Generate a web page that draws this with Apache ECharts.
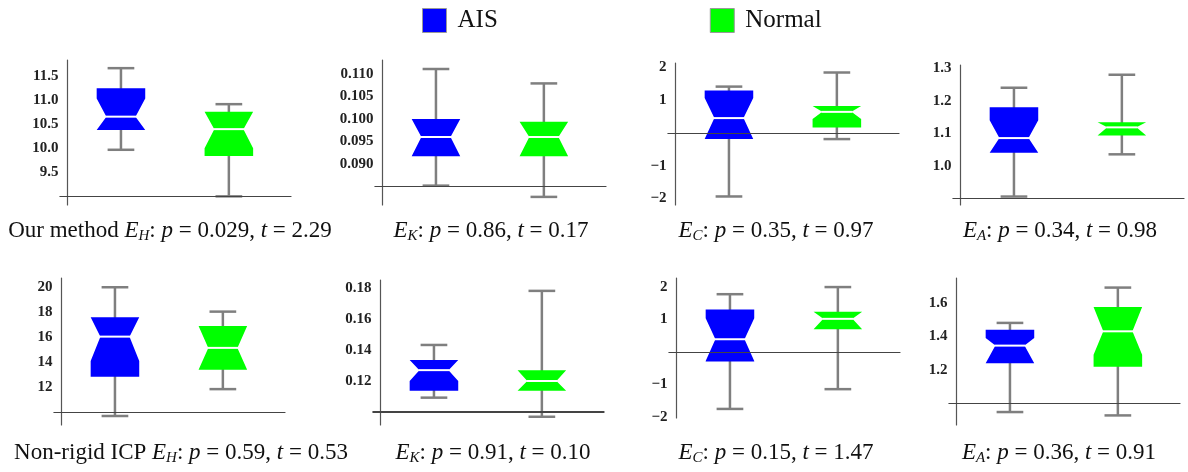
<!DOCTYPE html>
<html>
<head>
<meta charset="utf-8">
<script src="https://cdn.jsdelivr.net/npm/echarts@6/dist/echarts.min.js"></script>
<style>
  html, body { margin: 0; padding: 0; background: #fff; }
  #chart { width: 1188px; height: 472px; }
</style>
</head>
<body>
<div id="chart"></div>
<script>
// box stats: [lower whisker, Q1, notch low, median, notch high, Q3, upper whisker]
const oursEH_AIS = [9.97, 10.38, 10.38, 10.66, 11.04, 11.25, 11.67];
const oursEH_Normal = [9.0, 9.84, 10.0, 10.40, 10.76, 10.76, 10.92];
const oursEK_AIS = [0.0852, 0.0917, 0.0917, 0.0960, 0.1000, 0.1000, 0.1111];
const oursEK_Normal = [0.0827, 0.0917, 0.0917, 0.0960, 0.0994, 0.0994, 0.1079];
const oursEC_AIS = [-1.94, -0.19, -0.19, 0.45, 1.06, 1.29, 1.41];
const oursEC_Normal = [-0.19, 0.16, 0.42, 0.64, 0.82, 0.82, 1.84];
const oursEA_AIS = [0.905, 1.04, 1.04, 1.085, 1.14, 1.18, 1.24];
const oursEA_Normal = [1.035, 1.093, 1.093, 1.118, 1.134, 1.134, 1.28];

const icpEH_AIS = [9.7, 12.85, 14.1, 16.05, 17.6, 17.6, 20.0];
const icpEH_Normal = [11.85, 13.4, 13.4, 15.15, 16.9, 16.9, 18.05];
const icpEK_AIS = [0.1093, 0.1138, 0.120, 0.127, 0.1335, 0.1335, 0.1432];
const icpEK_Normal = [0.097, 0.1138, 0.1138, 0.120, 0.127, 0.127, 0.178];
const icpEC_AIS = [-1.76, -0.30, -0.28, 0.39, 1.04, 1.31, 1.78];
const icpEC_Normal = [-1.15, 0.70, 0.70, 1.02, 1.24, 1.24, 2.0];
const icpEA_AIS = [0.95, 1.24, 1.24, 1.345, 1.39, 1.44, 1.48];
const icpEA_Normal = [0.93, 1.22, 1.29, 1.43, 1.575, 1.575, 1.69];

const groups = ['AIS', 'Normal'];
const groupPos = [0.5, 1.5];

// y axis ranges, axis crossing value and tick labels per panel
const yMin = [8.82, 0.0809, -2.2, 0.879, 8.98, 0.0917, -2.04, 0.873];
const yMax = [11.84, 0.1131, 2.13, 1.31, 20.74, 0.185, 2.28, 1.747];
const axisCross = [9.0, 0.085, 0, 0.9, 10, 0.10, 0, 1.0];
const tickLabels = [
  ['9.5', '10.0', '10.5', '11.0', '11.5'],
  ['0.090', '0.095', '0.100', '0.105', '0.110'],
  ['\u22122', '\u22121', '1', '2'],
  ['1.0', '1.1', '1.2', '1.3'],
  ['12', '14', '16', '18', '20'],
  ['0.12', '0.14', '0.16', '0.18'],
  ['\u22122', '\u22121', '1', '2'],
  ['1.2', '1.4', '1.6'],
];

// captions
const captionPrefix = ['Our method ', '', '', '', 'Non-rigid ICP ', '', '', ''];
const errorSub = ['H', 'K', 'C', 'A', 'H', 'K', 'C', 'A'];
const pValues = ['0.029', '0.86', '0.35', '0.34', '0.59', '0.91', '0.15', '0.36'];
const tValues = ['2.29', '0.17', '0.97', '0.98', '0.53', '0.10', '1.47', '0.91'];

const panels = [
  [oursEH_AIS, oursEH_Normal], [oursEK_AIS, oursEK_Normal],
  [oursEC_AIS, oursEC_Normal], [oursEA_AIS, oursEA_Normal],
  [icpEH_AIS, icpEH_Normal], [icpEK_AIS, icpEK_Normal],
  [icpEC_AIS, icpEC_Normal], [icpEA_AIS, icpEA_Normal],
];

// layout (pixels)
const axisX = [67, 382, 675, 960, 61, 380, 676, 956];
const axisTop = [60, 60, 63, 65, 278, 280, 278, 278];
const axisBottom = [205, 205, 205, 205, 425, 425, 418, 425];
const captionX = [170, 491, 776, 1060, 181, 493, 776, 1059];
const captionY = [231, 231, 231, 231, 453, 453, 453, 453];
const X_MIN = -0.07, X_MAX = 2.08, GRID_W = 232, BOX_W = 0.45;
const colors = { AIS: '#0000ff', Normal: '#00ff00' };
const SERIF = '"Liberation Serif", "Times New Roman", serif';

const toNum = (s) => Number(s.replace('\u2212', '-'));

function renderBox(params, api) {
  const x = api.value(0);
  const wl = api.value(1), q1 = api.value(2), nl = api.value(3), md = api.value(4);
  const nh = api.value(5), q3 = api.value(6), wh = api.value(7);
  const c = api.coord([x, md])[0];
  const y = (v) => api.coord([x, v])[1];
  const hw = api.size([BOX_W, 0])[0] / 2;
  const nw = hw * 0.6;
  const cap = hw * 0.55;
  const lo = Math.max(nl, q1), hi = Math.min(nh, q3);
  const L = c - hw, R = c + hw;
  const whisker = { stroke: '#7f7f7f', lineWidth: 2.5 };
  return {
    type: 'group',
    children: [
      { type: 'line', shape: { x1: c, y1: y(wl), x2: c, y2: y(wh) }, style: whisker },
      { type: 'line', shape: { x1: c - cap, y1: y(wl), x2: c + cap, y2: y(wl) }, style: whisker },
      { type: 'line', shape: { x1: c - cap, y1: y(wh), x2: c + cap, y2: y(wh) }, style: whisker },
      {
        type: 'polygon',
        shape: {
          points: [
            [L, y(q1)], [L, y(lo)], [c - nw, y(md)], [L, y(hi)], [L, y(q3)],
            [R, y(q3)], [R, y(hi)], [c + nw, y(md)], [R, y(lo)], [R, y(q1)],
          ],
        },
        style: { fill: api.visual('color') },
      },
      { type: 'line', shape: { x1: c - nw - 1, y1: y(md), x2: c + nw + 1, y2: y(md) }, style: { stroke: '#fff', lineWidth: 2 } },
    ],
  };
}

const grid = [], xAxis = [], yAxis = [], series = [], graphic = [];
panels.forEach((pair, i) => {
  grid.push({
    left: axisX[i] + X_MIN * (GRID_W / (X_MAX - X_MIN)),
    width: GRID_W,
    top: axisTop[i],
    height: axisBottom[i] - axisTop[i],
  });
  xAxis.push({
    type: 'value', gridIndex: i, min: X_MIN, max: X_MAX,
    axisLine: { show: false }, axisTick: { show: false },
    axisLabel: { show: false }, splitLine: { show: false },
  });
  const ticks = tickLabels[i];
  yAxis.push({
    type: 'value', gridIndex: i, min: yMin[i], max: yMax[i],
    axisLine: { show: true, onZero: true, lineStyle: { color: '#555', width: 1.2 } },
    axisTick: { show: false },
    splitLine: { show: false },
    axisLabel: {
      customValues: ticks.map(toNum),
      formatter: (v) => {
        const k = ticks.findIndex((s) => Math.abs(toNum(s) - v) < 1e-9);
        return k >= 0 ? ticks[k] : '';
      },
      margin: 1,
      color: '#222',
      fontFamily: SERIF,
      fontWeight: 'bold',
      fontSize: 15,
    },
  });
  pair.forEach((stats, g) => {
    const s = {
      type: 'custom',
      name: groups[g],
      xAxisIndex: i,
      yAxisIndex: i,
      itemStyle: { color: colors[groups[g]] },
      renderItem: renderBox,
      data: [[groupPos[g], ...stats]],
      silent: true,
    };
    if (g === 0) {
      s.markLine = {
        silent: true, symbol: 'none', animation: false, precision: 6,
        label: { show: false },
        lineStyle: { color: '#444', width: i === 5 ? 1.8 : 1.2, type: 'solid' },
        data: [{ yAxis: axisCross[i] }],
      };
    }
    series.push(s);
  });
  graphic.push({
    type: 'text',
    x: captionX[i],
    y: captionY[i],
    style: {
      text: `${captionPrefix[i]}{i|E}{s|${errorSub[i]}}: {i|p} = ${pValues[i]}, {i|t} = ${tValues[i]}`,
      fontFamily: SERIF,
      fontSize: 23,
      fill: '#111',
      align: 'center',
      verticalAlign: 'middle',
      rich: {
        i: { fontFamily: SERIF, fontSize: 23, fontStyle: 'italic', fill: '#111' },
        s: { fontFamily: SERIF, fontSize: 15, fontStyle: 'italic', fill: '#111', padding: [11, 0, 0, 0] },
      },
    },
  });
});

const chart = echarts.init(document.getElementById('chart'));
chart.setOption({
  animation: false,
  legend: {
    left: 422,
    top: 8,
    padding: 0,
    itemWidth: 24,
    itemHeight: 24,
    itemGap: 212,
    icon: 'rect',
    data: [
      { name: 'AIS', itemStyle: { color: colors.AIS, borderColor: '#999', borderWidth: 1 } },
      { name: 'Normal', itemStyle: { color: colors.Normal, borderColor: '#999', borderWidth: 1 } },
    ],
    textStyle: { fontFamily: SERIF, fontSize: 25, color: '#111', padding: [0, 0, 0, 6] },
  },
  grid, xAxis, yAxis, series, graphic,
});
</script>
</body>
</html>
